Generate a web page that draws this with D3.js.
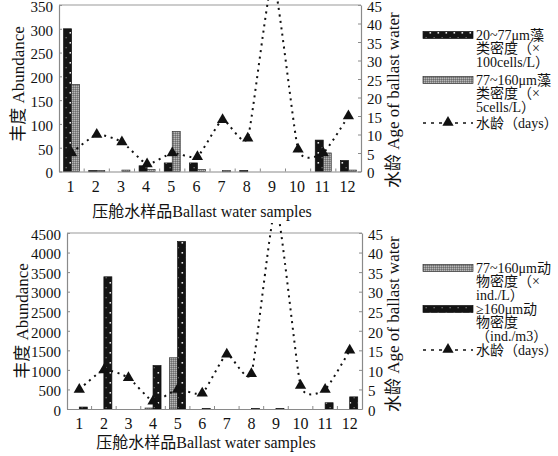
<!DOCTYPE html>
<html><head><meta charset="utf-8">
<script src="https://cdn.jsdelivr.net/npm/d3@7"></script>
<style>
html,body{margin:0;padding:0;background:#fff;}
svg{display:block;}
text{font-family:"Liberation Serif","DejaVu Serif","Noto Sans CJK SC",serif;fill:#111;}
</style></head>
<body>
<svg id="c" width="558" height="456"></svg>
<script>
const categories = ["1","2","3","4","5","6","7","8","9","10","11","12"];
// top chart: phytoplankton
const algae20to77 = [300, 2, 0, 12, 18, 18, 0, 2, 0, 0, 66, 23];   // ×100 cells/L
const algae77to160 = [183, 2, 3, 4, 84, 4, 2, 0, 0, 0, 39, 3];     // ×5 cells/L
// bottom chart: zooplankton
const zoo77to160 = [0, 0, 0, 25, 1310, 0, 0, 0, 0, 0, 0, 0];      // ind./L
const zooOver160 = [50, 3380, 0, 1110, 4280, 15, 0, 15, 15, 0, 160, 310]; // ind./m3
// water age (days), same for both panels
const waterAge = [5, 10, 8, 2, 5, 4, 14, 9, 52, 6, 5, 15];
const leftTicksTop = [0,50,100,150,200,250,300,350];
const leftTicksBottom = [0,500,1000,1500,2000,2500,3000,3500,4000,4500];
const rightTicks = [0,5,10,15,20,25,30,35,40,45];

const svg = d3.select("#c");
const defs = svg.append("defs");
// black dotted pattern
const pb = defs.append("pattern").attr("id","pBlack").attr("patternUnits","userSpaceOnUse")
  .attr("width",8).attr("height",10);
pb.append("rect").attr("width",8).attr("height",10).attr("fill","#141414");
pb.append("rect").attr("x",5.5).attr("y",2).attr("width",1.6).attr("height",1.6).attr("fill","#e8e8e8");
pb.append("rect").attr("x",1.5).attr("y",7).attr("width",1.3).attr("height",1.3).attr("fill","#777");
// gray textured pattern
const pg = defs.append("pattern").attr("id","pGray").attr("patternUnits","userSpaceOnUse")
  .attr("width",2).attr("height",2);
pg.append("rect").attr("width",2).attr("height",2).attr("fill","#8c8c8c");
pg.append("rect").attr("width",1).attr("height",1).attr("fill","#b8b8b8");
pg.append("rect").attr("x",1).attr("y",1).attr("width",1).attr("height",1).attr("fill","#6e6e6e");

function panel(cfg){
  const g = svg.append("g");
  const x = d3.scaleBand().domain(categories).range([cfg.left, cfg.right]).padding(0);
  const yL = d3.scaleLinear().domain([0, cfg.leftMax]).range([cfg.bottom, cfg.top]);
  const yR = d3.scaleLinear().domain([0, 45]).range([cfg.bottom, cfg.top]);
  const bw = 8;
  // bars
  cfg.series.forEach((s, si) => {
    g.append("g").selectAll("rect").data(s.values.map((v,i)=>({v, c:categories[i]})).filter(d=>d.v>0))
      .join("rect")
      .attr("x", d => x(d.c) + x.bandwidth()/2 - bw + si*bw)
      .attr("y", d => yL(d.v))
      .attr("width", bw)
      .attr("height", d => Math.max(1.2, cfg.bottom - yL(d.v)))
      .attr("fill", s.fill)
      .attr("stroke", s.stroke).attr("stroke-width", 0.7);
  });
  // axes
  const fmt = d3.format("d");
  const axL = d3.axisLeft(yL).tickValues(cfg.leftTicks).tickFormat(fmt).tickSizeInner(-3).tickSizeOuter(0).tickPadding(6);
  const gl = g.append("g").attr("transform",`translate(${cfg.left},0)`).call(axL);
  const axR = d3.axisRight(yR).tickValues(rightTicks).tickFormat(fmt).tickSizeInner(-3).tickSizeOuter(0).tickPadding(6);
  const gr = g.append("g").attr("transform",`translate(${cfg.right},0)`).call(axR);
  const axB = d3.axisBottom(x).tickSize(0).tickPadding(9);
  const gb = g.append("g").attr("transform",`translate(0,${cfg.bottom})`).call(axB);
  [gl,gr,gb].forEach(a=>{
    a.select(".domain").attr("stroke","#8a8a8a").attr("stroke-width",1.2);
    a.selectAll(".tick line").attr("stroke","#8a8a8a");
    a.selectAll("text").style("font-family",'"Liberation Serif",serif').attr("fill","#111");
  });
  gl.selectAll("text").style("font-size","15px").attr("dy","0.42em");
  gr.selectAll("text").style("font-size","15px").attr("dy","0.42em");
  gb.selectAll("text").style("font-size","16px").attr("dx", cfg.labelDx || 0);
  // category separator ticks on x axis
  g.append("g").selectAll("line").data(categories.slice(1)).join("line")
    .attr("x1", d=>x(d)).attr("x2", d=>x(d))
    .attr("y1", cfg.bottom).attr("y2", cfg.bottom-3)
    .attr("stroke","#8a8a8a");
  // top border
  g.append("line").attr("x1",cfg.left).attr("x2",cfg.right).attr("y1",cfg.top).attr("y2",cfg.top)
    .attr("stroke","#9a9a9a").attr("stroke-width",1.2);
  // water-age line
  const clipId = "clip"+cfg.id;
  defs.append("clipPath").attr("id",clipId).append("rect")
    .attr("x",0).attr("y",cfg.clipTop).attr("width",558).attr("height",456);
  const pts = waterAge.map((v,i)=>[x(categories[i])+x.bandwidth()/2, yR(v)]);
  g.append("path").attr("clip-path",`url(#${clipId})`)
    .attr("d", d3.line().curve(d3.curveCardinal.tension(0.5))(pts))
    .attr("fill","none").attr("stroke","#111").attr("stroke-width",2)
    .attr("stroke-dasharray","2,4.5");
  const tri = d3.symbol().type(d3.symbolTriangle).size(55);
  g.append("g").selectAll("path").data(waterAge.map((v,i)=>({v,i})).filter(d=>d.v<=45)).join("path")
    .attr("d", tri)
    .attr("transform", d=>`translate(${x(categories[d.i])+x.bandwidth()/2},${yR(d.v)})`)
    .attr("fill","#111");
  // axis titles
  g.append("text").attr("transform",`translate(${cfg.ltX},${cfg.ltY}) rotate(-90)`)
    .attr("text-anchor","middle").attr("dy","0.35em").style("font-size","17px").text("丰度 Abundance");
  g.append("text").attr("transform",`translate(${cfg.rtX},${cfg.rtY}) rotate(-90)`)
    .attr("text-anchor","start").attr("dy","0.35em").style("font-size","17px").text("水龄 Age of ballast water");
  g.append("text").attr("x",cfg.xtX).attr("y",cfg.xtY).attr("text-anchor","middle").attr("dy","0.35em")
    .style("font-size","16px").text("压舱水样品Ballast water samples");
  // legend
  const lg = g.append("g");
  cfg.legend.forEach(item => {
    if (item.type === "bar") {
      lg.append("rect").attr("x",423).attr("y",item.y-3.5).attr("width",50).attr("height",7)
        .attr("fill",item.fill).attr("stroke",item.stroke).attr("stroke-width",0.7);
    } else {
      lg.append("line").attr("x1",423).attr("x2",473).attr("y1",item.y).attr("y2",item.y)
        .attr("stroke","#111").attr("stroke-width",1.5).attr("stroke-dasharray","3,5");
      lg.append("path").attr("d",tri).attr("transform",`translate(448,${item.y-0.5})`).attr("fill","#111");
    }
    item.lines.forEach((t,k)=>{
      lg.append("text").attr("x",476).attr("y",item.y + k*13.5).attr("dy","0.35em")
        .style("font-size","14px").text(t);
    });
  });
}

panel({
  id:"top", left:59, right:361, top:5, bottom:171.5, leftMax:350, leftTicks:leftTicksTop,
  series:[{values:algae20to77, fill:"url(#pBlack)", stroke:"#111"},
          {values:algae77to160, fill:"url(#pGray)", stroke:"#333"}],
  clipTop:-10, ltX:18, ltY:84, rtX:393, rtY:188, xtX:202, xtY:211, labelDx:-1,
  legend:[
    {type:"bar", y:35, fill:"url(#pBlack)", stroke:"#111", lines:["20~77μm藻","类密度（×","100cells/L）"]},
    {type:"bar", y:80, fill:"url(#pGray)", stroke:"#333", lines:["77~160μm藻","类密度（×","5cells/L）"]},
    {type:"line", y:123, lines:["水龄（days）"]}
  ]
});
panel({
  id:"bot", left:67, right:362, top:233, bottom:409, leftMax:4500, leftTicks:leftTicksBottom,
  series:[{values:zoo77to160, fill:"url(#pGray)", stroke:"#333"},
          {values:zooOver160, fill:"url(#pBlack)", stroke:"#111"}],
  clipTop:223, ltX:22, ltY:321, rtX:393, rtY:412, xtX:206, xtY:442, labelDx:0,
  legend:[
    {type:"bar", y:268, fill:"url(#pGray)", stroke:"#333", lines:["77~160μm动","物密度（×","ind./L）"]},
    {type:"bar", y:309, fill:"url(#pBlack)", stroke:"#111", lines:["≥160μm动","物密度","（ind./m3）"]},
    {type:"line", y:350, lines:["水龄（days）"]}
  ]
});
</script>
</body></html>
